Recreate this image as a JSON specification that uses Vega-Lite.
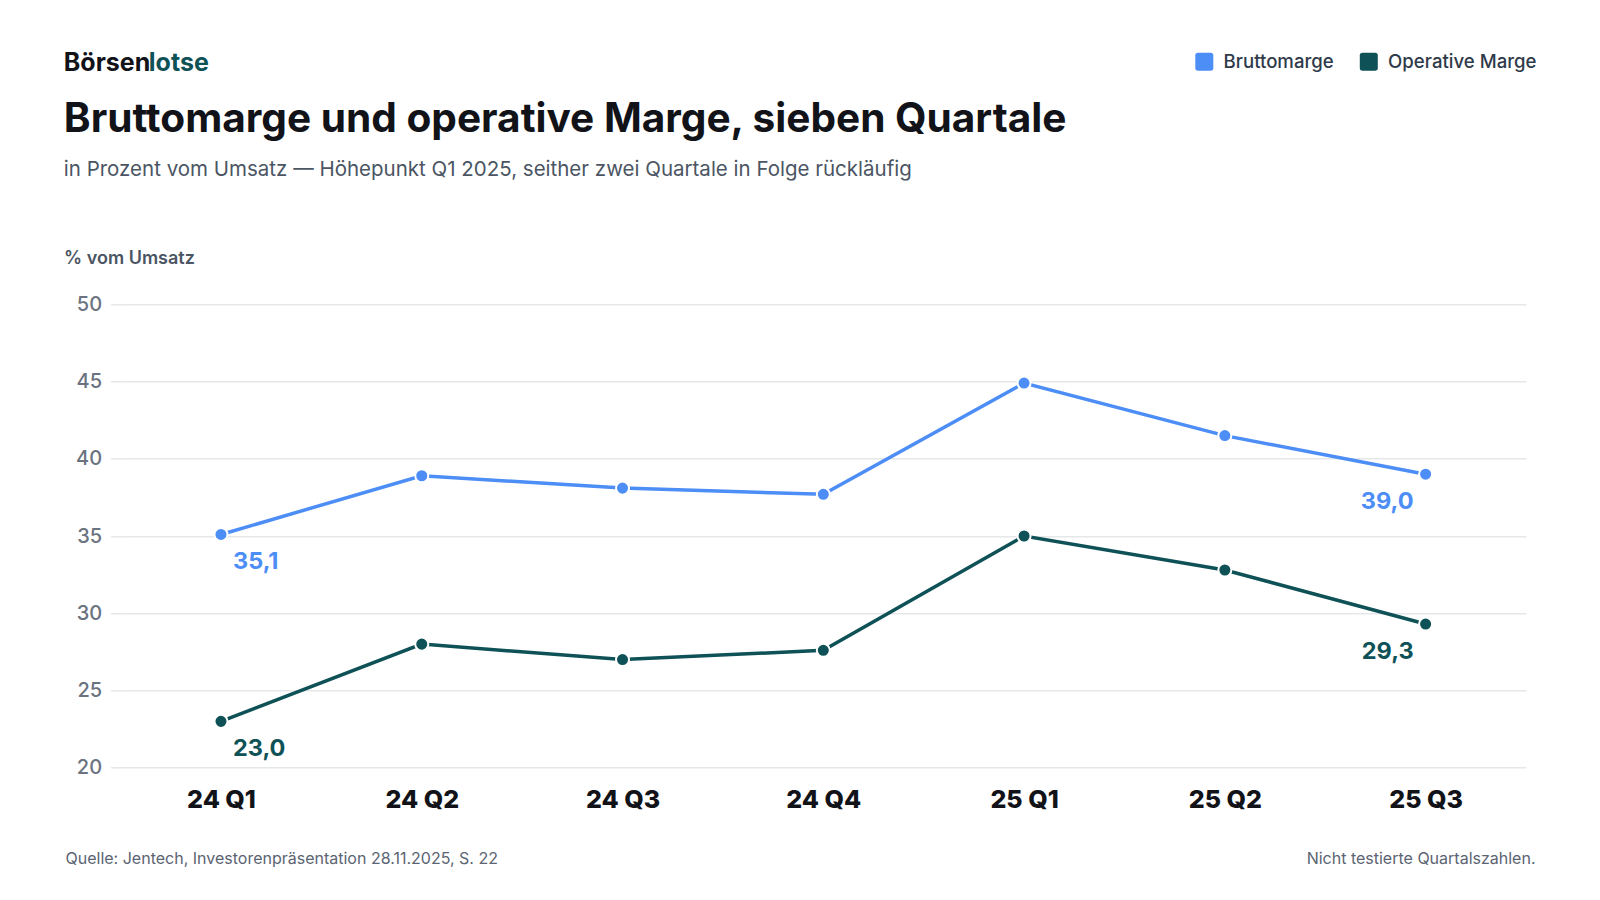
{
  "$schema": "https://vega.github.io/schema/vega-lite/v6.json",
  "width": 1405.4,
  "height": 463.4,
  "autosize": {"type": "none"},
  "padding": {"left": 120.6, "top": 304.3, "right": 74, "bottom": 132.3},
  "background": "white",
  "config": {
    "locale": {"number": {"decimal": ",", "thousands": ".", "grouping": [3], "currency": ["", " €"]}},
    "font": "Inter",
    "view": {"stroke": null}
  },
  "title": {
    "text": "Bruttomarge und operative Marge, sieben Quartale",
    "subtitle": "in Prozent vom Umsatz — Höhepunkt Q1 2025, seither zwei Quartale in Folge rückläufig",
    "anchor": "start",
    "frame": "group",
    "dx": -56.8,
    "offset": -129,
    "font": "Inter",
    "fontSize": 40.6,
    "fontWeight": 700,
    "color": "#111318",
    "subtitleFont": "Inter",
    "subtitleFontSize": 20.5,
    "subtitleFontWeight": 400,
    "subtitleColor": "#4b5563",
    "subtitlePadding": 18.5
  },
  "data": {
    "values": [
      {"quartal": "24 Q1", "reihe": "Bruttomarge", "wert": 35.1},
      {"quartal": "24 Q2", "reihe": "Bruttomarge", "wert": 38.9},
      {"quartal": "24 Q3", "reihe": "Bruttomarge", "wert": 38.1},
      {"quartal": "24 Q4", "reihe": "Bruttomarge", "wert": 37.7},
      {"quartal": "25 Q1", "reihe": "Bruttomarge", "wert": 44.9},
      {"quartal": "25 Q2", "reihe": "Bruttomarge", "wert": 41.5},
      {"quartal": "25 Q3", "reihe": "Bruttomarge", "wert": 39.0},
      {"quartal": "24 Q1", "reihe": "Operative Marge", "wert": 23.0},
      {"quartal": "24 Q2", "reihe": "Operative Marge", "wert": 28.0},
      {"quartal": "24 Q3", "reihe": "Operative Marge", "wert": 27.0},
      {"quartal": "24 Q4", "reihe": "Operative Marge", "wert": 27.6},
      {"quartal": "25 Q1", "reihe": "Operative Marge", "wert": 35.0},
      {"quartal": "25 Q2", "reihe": "Operative Marge", "wert": 32.8},
      {"quartal": "25 Q3", "reihe": "Operative Marge", "wert": 29.3}
    ]
  },
  "encoding": {
    "x": {
      "field": "quartal",
      "type": "ordinal",
      "sort": null,
      "scale": {"type": "point", "padding": 0.5},
      "axis": {
        "labelAngle": 0,
        "labelFont": "Inter",
        "labelFontSize": 25,
        "labelFontWeight": 800,
        "labelColor": "#111318",
        "labelBaseline": "alphabetic",
        "labelPadding": 39.6,
        "ticks": false,
        "tickSize": 0,
        "domain": false,
        "grid": false,
        "title": "Quelle: Jentech, Investorenpräsentation 28.11.2025, S. 22",
        "titleFont": "Inter",
        "titleFontSize": 16,
        "titleFontWeight": 400,
        "titleColor": "#5b6472",
        "titleAnchor": "start",
        "titleAlign": "left",
        "titleBaseline": "alphabetic",
        "titleX": -55.6,
        "titleY": 95.6
      }
    },
    "color": {
      "field": "reihe",
      "type": "nominal",
      "scale": {"domain": ["Bruttomarge", "Operative Marge"], "range": ["#4C8DF6", "#0E5156"]},
      "legend": {
        "orient": "none",
        "legendX": 1074.4,
        "legendY": -252,
        "direction": "horizontal",
        "title": null,
        "symbolType": "M-0.7,-1L0.7,-1Q1,-1 1,-0.7L1,0.7Q1,1 0.7,1L-0.7,1Q-1,1 -1,0.7L-1,-0.7Q-1,-1 -0.7,-1Z",
        "symbolSize": 324,
        "symbolStrokeWidth": 0,
        "symbolOpacity": 1,
        "labelFont": "Inter",
        "labelFontSize": 18.6,
        "labelFontWeight": 500,
        "labelColor": "#2f3a4a",
        "labelOffset": 10,
        "columnPadding": 25.5,
        "padding": 0,
        "encode": {"symbols": {"update": {"fill": {"scale": "color", "field": "value"}, "stroke": {"value": "transparent"}, "opacity": {"value": 1}}}}
      }
    }
  },
  "layer": [
    {
      "mark": {"type": "line", "strokeWidth": 3.5},
      "encoding": {
        "y": {
          "field": "wert",
          "type": "quantitative",
          "scale": {"domain": [20, 50], "nice": false, "zero": false},
          "axis": {
            "values": [20, 25, 30, 35, 40, 45, 50],
            "labelFont": "Inter",
            "labelFontSize": 20,
            "labelFontWeight": 500,
            "labelColor": "#6b7280",
            "labelPadding": 9,
            "ticks": true,
            "tickSize": 10,
            "tickColor": "#e6e7e9",
            "tickWidth": 1.5,
            "domain": false,
            "grid": true,
            "gridColor": "#e6e7e9",
            "gridWidth": 1.5,
            "title": "% vom Umsatz",
            "titleFont": "Inter",
            "titleFontSize": 18,
            "titleFontWeight": 600,
            "titleColor": "#4b5563",
            "titleAngle": 0,
            "titleAlign": "left",
            "titleAnchor": "start",
            "titleBaseline": "alphabetic",
            "titleX": -57,
            "titleY": -41
          }
        }
      }
    },
    {
      "mark": {"type": "point", "filled": true, "size": 170, "stroke": "white", "strokeWidth": 2, "opacity": 1},
      "encoding": {"y": {"field": "wert", "type": "quantitative", "axis": null}}
    },
    {
      "transform": [{"filter": "datum.quartal === '24 Q1'"}],
      "mark": {"type": "text", "align": "left", "baseline": "alphabetic", "dx": 12, "dy": 35, "font": "Inter", "fontSize": 23.5, "fontWeight": 700},
      "encoding": {
        "y": {"field": "wert", "type": "quantitative", "axis": null},
        "text": {"field": "wert", "type": "quantitative", "format": ".1f"}
      }
    },
    {
      "transform": [{"filter": "datum.quartal === '25 Q3'"}],
      "mark": {"type": "text", "align": "right", "baseline": "alphabetic", "dx": -12, "dy": 35, "font": "Inter", "fontSize": 23.5, "fontWeight": 700},
      "encoding": {
        "y": {
          "field": "wert",
          "type": "quantitative",
          "axis": {
            "orient": "right",
            "labels": false,
            "ticks": false,
            "domain": false,
            "grid": false,
            "title": "Nicht testierte Quartalszahlen.",
            "titleFont": "Inter",
            "titleFontSize": 16,
            "titleFontWeight": 400,
            "titleColor": "#5b6472",
            "titleAngle": 0,
            "titleAlign": "right",
            "titleBaseline": "alphabetic",
            "titleX": 9,
            "titleY": 559
          }
        },
        "text": {"field": "wert", "type": "quantitative", "format": ".1f"}
      }
    },
    {
      "data": {"values": [{}]},
      "mark": {"type": "text", "text": "Börsen", "align": "left", "baseline": "alphabetic", "font": "Inter", "fontSize": 25, "fontWeight": 700},
      "encoding": {"x": {"value": -56.8}, "y": {"value": -233.3}, "color": {"value": "#111318"}}
    },
    {
      "data": {"values": [{}]},
      "mark": {"type": "text", "text": "lotse", "align": "left", "baseline": "alphabetic", "font": "Inter", "fontSize": 25, "fontWeight": 700},
      "encoding": {"x": {"value": 28.2}, "y": {"value": -233.3}, "color": {"value": "#0E5156"}}
    }
  ],
  "resolve": {"axis": {"y": "independent"}}
}
